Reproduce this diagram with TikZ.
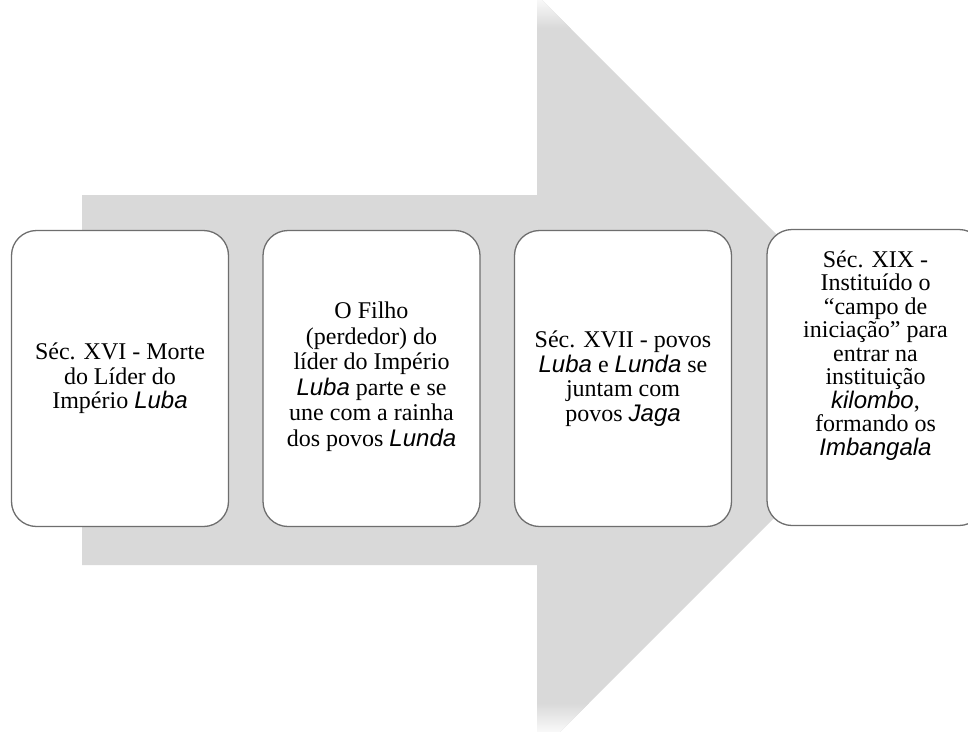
\documentclass[tikz,border=0pt]{standalone}
\usepackage{fontspec}
\setmainfont{Liberation Serif}
\setsansfont{Liberation Sans}
\newcommand{\nm}[1]{{\sffamily\itshape #1}}
\definecolor{arrowgray}{HTML}{D9D9D9}
\definecolor{boxborder}{HTML}{6E6E6E}
\tikzset{
  stagebox/.style={draw=boxborder, line width=1.3pt, fill=white, rounded corners=25pt,
    minimum width=217pt, minimum height=296pt, inner sep=0pt},
  stagetext/.style={align=center, font=\fontsize{24}{24.5}\selectfont, inner sep=0pt}
}
\begin{document}
\begin{tikzpicture}[x=1pt,y=-1pt]
\useasboundingbox (0,0) rectangle (968,731);
% big arrow
\fill[arrowgray] (82,195) -- (537,195) -- (537,-5) -- (917,375) -- (537,755) -- (537,565) -- (82,565) -- cycle;
\begin{scope}
  \clip (82,195) -- (537,195) -- (537,-5) -- (917,375) -- (537,755) -- (537,565) -- (82,565) -- cycle;
  \shade[top color=white, bottom color=arrowgray] (530,-6) rectangle (620,28);
  \shade[top color=arrowgray, bottom color=white] (530,703) rectangle (620,737);
\end{scope}
% stages
\node[stagebox, stagetext] (b1) at (120,378.5) {Séc. XVI - Morte\\do Líder do\\Império \nm{Luba}};
\node[stagebox] (b2) at (371.5,378.5) {};
\node[stagetext, font=\fontsize{24}{25.5}\selectfont] (t2) at ([yshift=2pt]b2.center) {O Filho\\(perdedor) do\\líder do Império\\\nm{Luba} parte e se\\une com a rainha\\dos povos \nm{Lunda}};
\node[stagebox, stagetext] (b3) at (623,378.5) {Séc. XVII - povos\\\nm{Luba} e \nm{Lunda} se\\juntam com\\povos \nm{Jaga}};
\node[stagebox] (b4) at (875.5,377.5) {};
\node[stagetext, font=\fontsize{24}{23.5}\selectfont] (t4) at ([yshift=22pt]b4.center) {Séc. XIX -\\Instituído o\\“campo de\\iniciação” para\\entrar na\\instituição\\\nm{kilombo},\\formando os\\\nm{Imbangala}};
\end{tikzpicture}
\end{document}
